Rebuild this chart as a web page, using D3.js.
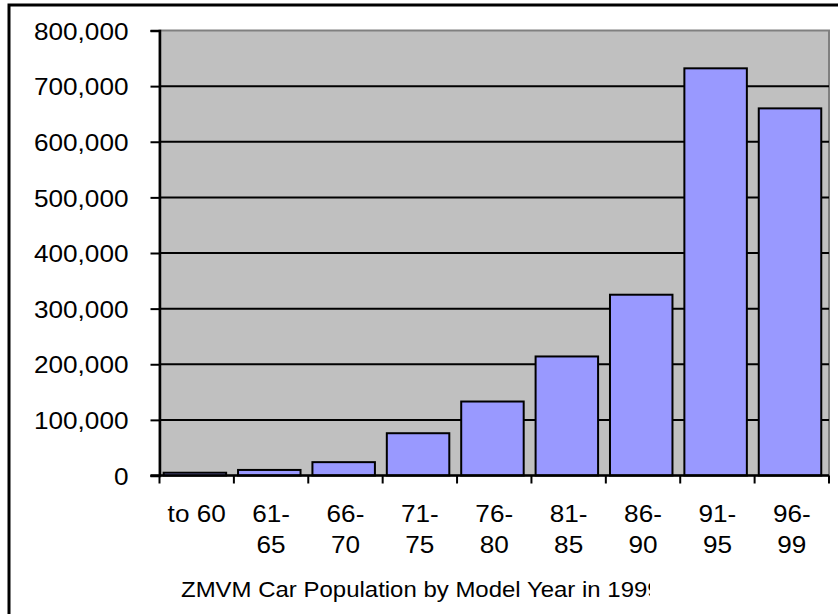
<!DOCTYPE html>
<html>
<head>
<meta charset="utf-8">
<script src="https://cdn.jsdelivr.net/npm/d3@7"></script>
<style>
  html, body { margin: 0; padding: 0; background: #fff; }
  svg { display: block; }
  text { font-family: "Liberation Sans", Arial, sans-serif; fill: #000; }
</style>
</head>
<body>
<svg id="chart" width="838" height="614"></svg>
<script>
// Model-year groups and car counts
const categories = ["to 60", "61-65", "66-70", "71-75", "76-80", "81-85", "86-90", "91-95", "96-99"];
const cars = [5000, 10000, 24000, 76000, 133000, 214000, 325000, 732000, 660000];
const yTicks = [0, 100000, 200000, 300000, 400000, 500000, 600000, 700000, 800000];
const chartTitle = "ZMVM Car Population by Model Year in 1999";

const svg = d3.select("#chart");
const W = 838, H = 614;
const plot = { left: 159.5, right: 829, top: 30.5, bottom: 475.5 };
const stretch = 1.09; // text is drawn slightly wide

// outer chart frame (runs off the right and bottom edges)
svg.append("rect")
  .attr("x", 9).attr("y", 5)
  .attr("width", W + 20).attr("height", H + 20)
  .attr("fill", "#fff").attr("stroke", "#000").attr("stroke-width", 3);

const x = d3.scaleBand().domain(categories).range([plot.left, plot.right]);
const xBar = d3.scaleBand().domain(categories)
  .range([plot.left - 1.8, plot.right - 1.8])
  .paddingInner(0.16).paddingOuter(0.08);
const y = d3.scaleLinear().domain([0, 800000]).range([plot.bottom, plot.top]);

// plot area
svg.append("rect")
  .attr("x", plot.left).attr("y", plot.top)
  .attr("width", plot.right - plot.left).attr("height", plot.bottom - plot.top)
  .attr("fill", "#c0c0c0").attr("stroke", "#808080").attr("stroke-width", 2);

// horizontal gridlines
svg.append("g").selectAll("line")
  .data(yTicks.filter(d => d > 0 && d < 800000))
  .join("line")
  .attr("x1", plot.left).attr("x2", plot.right)
  .attr("y1", d => y(d)).attr("y2", d => y(d))
  .attr("stroke", "#000").attr("stroke-width", 2);

// bars
svg.append("g").selectAll("rect")
  .data(categories)
  .join("rect")
  .attr("x", d => xBar(d))
  .attr("width", xBar.bandwidth())
  .attr("y", (d, i) => y(cars[i]))
  .attr("height", (d, i) => y(0) - y(cars[i]))
  .attr("fill", "#9999ff").attr("stroke", "#000").attr("stroke-width", 2);

// value axis
const yAxis = svg.append("g")
  .attr("transform", `translate(${plot.left},0)`)
  .call(d3.axisLeft(y).tickValues(yTicks).tickSize(9).tickPadding(0).tickFormat(d3.format(",")));
yAxis.select(".domain").attr("stroke", "#000").attr("stroke-width", 2.5);
yAxis.selectAll(".tick line").attr("stroke", "#000").attr("stroke-width", 2);
yAxis.selectAll(".tick text").remove();
yAxis.selectAll(".tick").append("text")
  .attr("transform", `translate(-31,8.7) scale(${stretch},1)`)
  .attr("text-anchor", "end")
  .attr("font-size", 24)
  .text(d => d3.format(",")(d));

// category axis
const edges = categories.map(c => x(c)).concat([plot.right]);
const xg = svg.append("g");
xg.append("line")
  .attr("x1", plot.left - 9).attr("x2", plot.right)
  .attr("y1", plot.bottom).attr("y2", plot.bottom)
  .attr("stroke", "#000").attr("stroke-width", 2.5);
xg.selectAll("line.tick")
  .data(edges)
  .join("line").attr("class", "tick")
  .attr("x1", d => d).attr("x2", d => d)
  .attr("y1", plot.bottom).attr("y2", plot.bottom + 8)
  .attr("stroke", "#000").attr("stroke-width", 2);

const lines = c => c.includes("-") ? [c.slice(0, c.indexOf("-") + 1), c.slice(c.indexOf("-") + 1)] : [c];
const labels = xg.selectAll("g.lab")
  .data(categories)
  .join("g").attr("class", "lab")
  .attr("transform", d => `translate(${x(d) + x.bandwidth() / 2},0)`);
labels.selectAll("text")
  .data(d => lines(d))
  .join("text")
  .attr("transform", (d, i) => `translate(0,${522 + i * 31}) scale(${stretch},1)`)
  .attr("text-anchor", "middle")
  .attr("font-size", 24)
  .text(d => d);

// title, clipped by its box
svg.append("clipPath").attr("id", "titleClip")
  .append("rect").attr("x", 170).attr("y", 560).attr("width", 480).attr("height", 50);
svg.append("g").attr("clip-path", "url(#titleClip)")
  .append("text")
  .attr("transform", `translate(181,597) scale(${stretch},1)`)
  .attr("font-size", 22)
  .text(chartTitle);
</script>
</body>
</html>
